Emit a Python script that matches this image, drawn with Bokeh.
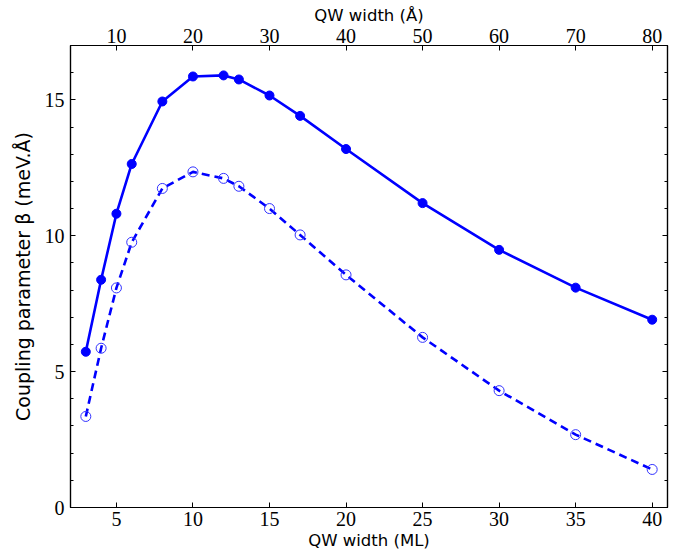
from bokeh.plotting import figure
from bokeh.models import Range1d, LinearAxis, SingleIntervalTicker, FixedTicker
from bokeh.embed import file_html
from bokeh.resources import INLINE

# Data (QW width in monolayers, coupling parameter in meV.Å)
width_ml = [3, 4, 5, 6, 8, 10, 12, 13, 15, 17, 20, 25, 30, 35, 40]
beta_solid = [5.73, 8.38, 10.81, 12.64, 14.94, 15.86, 15.90, 15.75, 15.16, 14.41, 13.19, 11.20, 9.48, 8.09, 6.91]
beta_dashed = [3.35, 5.86, 8.08, 9.76, 11.74, 12.35, 12.11, 11.82, 11.00, 10.03, 8.56, 6.26, 4.30, 2.68, 1.40]
bottom_ticks = [5, 10, 15, 20, 25, 30, 35, 40]
top_ticks = [10, 20, 30, 40, 50, 60, 70, 80]

SERIF = "Liberation Serif"
SANS = "DejaVu Sans"

p = figure(width=675, height=552, output_backend="svg", toolbar_location=None,
           x_range=Range1d(2, 41), y_range=Range1d(0, 17),
           min_border_left=70, min_border_right=8, min_border_top=45, min_border_bottom=45)
p.grid.visible = False
p.outline_line_color = "black"
p.outline_line_width = 1.2
p.background_fill_color = "white"
p.border_fill_color = "white"

p.extra_x_ranges = {"ang": Range1d(4, 82)}

def style(ax, label_size="20px"):
    ax.axis_line_color = "black"
    ax.axis_line_width = 1.2
    ax.major_tick_in = 5
    ax.major_tick_out = 0
    ax.minor_tick_in = 3
    ax.minor_tick_out = 0
    ax.major_tick_line_color = "black"
    ax.minor_tick_line_color = "black"
    ax.major_label_text_font = SERIF
    ax.major_label_text_font_size = label_size
    ax.major_label_text_color = "black"
    ax.axis_label_text_font = SANS
    ax.axis_label_text_font_style = "normal"
    ax.axis_label_text_color = "black"

# bottom axis
xa = p.xaxis[0]
xa.ticker = FixedTicker(ticks=bottom_ticks)
style(xa)
xa.axis_label = "QW width (ML)"
xa.axis_label_text_font_size = "16.5px"
xa.major_label_standoff = 4
xa.axis_label_standoff = 2

# left axis
ya = p.yaxis[0]
ya.ticker = SingleIntervalTicker(interval=5, num_minor_ticks=5)
style(ya)
ya.axis_label = "Coupling parameter β (meV.Å)"
ya.axis_label_text_font_size = "19px"
ya.major_label_standoff = 6
ya.axis_label_standoff = 8

# top axis
ta = LinearAxis(x_range_name="ang", ticker=FixedTicker(ticks=top_ticks))
style(ta)
ta.axis_label = "QW width (Å)"
ta.axis_label_text_font_size = "16.5px"
ta.major_label_standoff = 3
ta.axis_label_standoff = 1
p.add_layout(ta, "above")

# right axis (ticks only)
ra = LinearAxis(ticker=SingleIntervalTicker(interval=5, num_minor_ticks=5))
style(ra)
ra.major_label_overrides = {0: "", 5: "", 10: "", 15: ""}
ra.major_label_standoff = 0
p.add_layout(ra, "right")

# series
p.line(width_ml, beta_solid, line_color="blue", line_width=2.6)
p.scatter(width_ml, beta_solid, marker="circle", size=9, fill_color="blue", line_color="blue")

p.line(width_ml, beta_dashed, line_color="blue", line_width=2.6, line_dash="8 5")
p.scatter(width_ml, beta_dashed, marker="circle", size=10, fill_color=None, line_color="#3333ff", line_width=1)

open("out.html", "w").write(file_html(p, INLINE))
